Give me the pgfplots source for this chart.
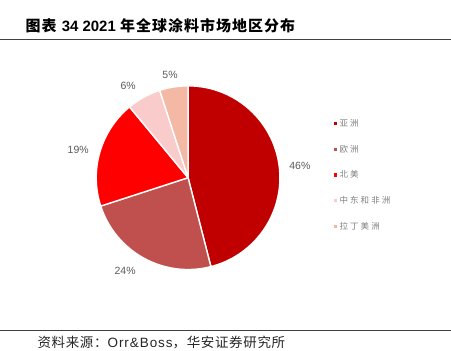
\documentclass[border=0pt]{standalone}
\usepackage{pgfplots}
\pgfplotsset{compat=1.18}
\usepackage{fontspec}
\setmainfont{Liberation Sans}
\newfontfamily\cjk{Noto Sans CJK SC}
\newfontfamily\cjkt[LetterSpace=7]{Noto Sans CJK SC}
\newfontfamily\cjkl[LetterSpace=25]{Noto Sans CJK SC}
\newfontfamily\cjks[LetterSpace=5]{Noto Sans CJK SC}
\newfontfamily\srcl[LetterSpace=7]{Liberation Sans}
\definecolor{cA}{HTML}{C00000}
\definecolor{cB}{HTML}{C0504D}
\definecolor{cC}{HTML}{FF0000}
\definecolor{cD}{HTML}{F9CBCB}
\definecolor{cE}{HTML}{F4B9A5}
\definecolor{lab}{HTML}{595959}
\definecolor{leg}{HTML}{7F7F7F}
\definecolor{rule}{HTML}{404040}
% start (cumulative %), share (%), colour
\newcommand{\pieslice}[3]{%
  \filldraw[fill=#3, draw=white, line width=1.4pt, line join=round]
    (axis cs:0,0) -- (axis cs:{cos(90-3.6*#1)},{sin(90-3.6*#1)})
    arc[start angle={90-3.6*#1}, end angle={90-3.6*(#1+#2)}, radius=92pt] -- cycle;}
\begin{document}
\begin{tikzpicture}[x=1pt,y=1pt]
\path (0,0) rectangle (451,351);
% title
\node[anchor=base west, inner sep=0pt] at (25,319)
  {\fontsize{15}{18}\selectfont{\cjkt\bfseries 图表} \textbf{34 2021} {\cjkt\bfseries 年全球涂料市场地区分布}};
\draw[rule, line width=0.8pt] (0,312) -- (451,312);
\draw[rule, line width=0.8pt] (0,20) -- (451,20);
\node[anchor=base west, inner sep=0pt, text=black!85] at (37,3)
  {\fontsize{13.5}{16}\selectfont{\cjks 资料来源：}{\srcl Orr\&Boss}{\cjks ，华安证券研究所}};
\begin{axis}[
  at={(188pt,173pt)}, anchor=center,
  x=92pt, y=92pt, hide axis, clip=false,
  xmin=-1.6, xmax=1.6, ymin=-1.3, ymax=1.3,
  legend style={at={(axis cs:1.585,0.65)}, anchor=north west, draw=none, fill=none,
    font=\cjkl\fontsize{8.5}{10}\selectfont\color{leg}, row sep=15.2pt,
    inner sep=0pt, nodes={inner sep=1pt},
    /tikz/every odd column/.append style={column sep=1.5pt}},
  legend cell align=left,
  legend image code/.code={\fill[#1, draw=none] (0pt,-1.6pt) rectangle (3.2pt,1.6pt);},
]
\pieslice{0}{46}{cA}
\pieslice{46}{24}{cB}
\pieslice{70}{19}{cC}
\pieslice{89}{6}{cD}
\pieslice{95}{5}{cE}
\addlegendimage{fill=cA}\addlegendentry{亚洲}
\addlegendimage{fill=cB}\addlegendentry{欧洲}
\addlegendimage{fill=cC}\addlegendentry{北美}
\addlegendimage{fill=cD}\addlegendentry{中东和非洲}
\addlegendimage{fill=cE}\addlegendentry{拉丁美洲}
\begin{scope}[every node/.style={text=lab, font=\fontsize{10.5}{12}\selectfont}]
\node at (axis cs:1.217,0.13) {46\%};
\node at (axis cs:-0.685,-1.01) {24\%};
\node at (axis cs:-1.196,0.304) {19\%};
\node at (axis cs:-0.652,1.0) {6\%};
\node at (axis cs:-0.196,1.12) {5\%};
\end{scope}
\end{axis}
\end{tikzpicture}
\end{document}
